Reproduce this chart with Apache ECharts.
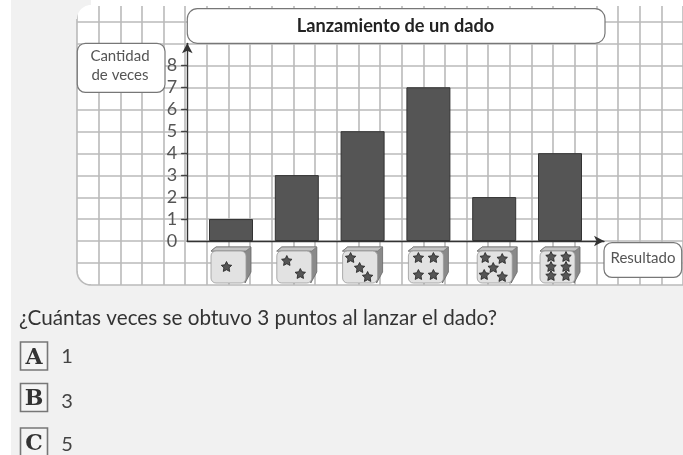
<!DOCTYPE html>
<html><head><meta charset="utf-8">
<style>html,body{margin:0;padding:0;background:#fff}#c{width:683px;height:455px}</style>
<script src="https://cdn.jsdelivr.net/npm/echarts@6/dist/echarts.min.js"></script>
</head><body><div id="c"></div>
<script>
const categories = ['1','2','3','4','5','6'];
const counts = [1,3,5,7,2,4];
const yTicks = [0,1,2,3,4,5,6,7,8];
const chartTitle = 'Lanzamiento de un dado';
const yAxisName = ['Cantidad','de veces'];
const xAxisName = 'Resultado';
const question = '¿Cuántas veces se obtuvo 3 puntos al lanzar el dado?';
const optionLetters = ['A','B','C'];
const optionValues = ['1','3','5'];

const FONT = 'Lato, sans-serif';
const PAGE = '#f1f1f1';
const INK = '#555';

// star pip layouts (offset from die face centre, px), per die face
const PIPS = {
  1:[[-1.5,0]],
  2:[[-7,-6],[6.5,7]],
  3:[[-9,-9],[0,1],[8,10]],
  4:[[-7,-9],[8,-9],[-7,8],[8,8]],
  5:[[-9,-9],[8,-8],[-1,1],[-10,8],[8,10]],
  6:[[-6,-10],[9,-10],[-6,0],[9,0],[-6,9],[9,9]]
};
const DIE_SHIFT = {5:3};
function starPoints(cx,cy,R){
  const pts=[];
  for(let i=0;i<10;i++){
    const r=i%2?R*0.5:R, a=-Math.PI/2+i*Math.PI/5;
    pts.push([cx+r*Math.cos(a),cy+r*Math.sin(a)]);
  }
  return pts;
}
function renderDie(params,api){
  const p=api.coord([api.value(0),0]);
  const n=api.value(1);
  const x=p[0]+(DIE_SHIFT[n]||0), y=p[1];
  const kids=[
    {type:'polygon',shape:{points:[[x-20,y+10],[x-15,y+6],[x+20,y+6],[x+20,y+31],[x+14,y+42],[x+12,y+12]]},style:{fill:'#8a8a8a',stroke:'#666',lineWidth:.8}},
    {type:'polygon',shape:{points:[[x-20,y+10],[x-15,y+6],[x+20,y+6],[x+15,y+10]]},style:{fill:'#c4c4c4',stroke:'#777',lineWidth:.8}},
    {type:'rect',shape:{x:x-20,y:y+10,width:35,height:32,r:5},style:{fill:'#e2e2e2',stroke:'#999',lineWidth:.8}}
  ];
  PIPS[n].forEach(o=>{
    kids.push({type:'polygon',shape:{points:starPoints(x-3+o[0],y+26+o[1],5.5)},style:{fill:'#555',stroke:'#222',lineWidth:.8}});
  });
  return {type:'group',children:kids};
}
function arc(cx,cy,r,a0,a1){
  const pts=[];
  for(let i=0;i<=12;i++){const a=(a0+(a1-a0)*i/12)*Math.PI/180;pts.push([cx+r*Math.cos(a),cy+r*Math.sin(a)]);}
  return pts;
}

const UX = 21.95, UY = 21.96, Y0 = 241, X0 = 187.3;
const gridLine = {show:true,lineStyle:{color:'#bababa',width:1.6}};
const none = {show:false};

const box = (x,y,w,h,r)=>({type:'rect',z:5,shape:{x,y,width:w,height:h,r},style:{fill:'#fff',stroke:'#777',lineWidth:1.2}});
const txt = (x,y,t,size,extra)=>({type:'text',z:6,x,y,style:Object.assign({text:t,font:size+'px '+FONT,fill:INK,textAlign:'center',textVerticalAlign:'middle'},extra||{})});

const cornerBL = arc(91,271,14,180,90);
const cornerTL = arc(91,19,14,180,270);
const graphics = [
  {type:'rect',z:-2,shape:{x:11,y:0,width:672,height:455},style:{fill:PAGE}},
  {type:'rect',z:-1,shape:{x:77,y:0,width:620,height:285},style:{fill:'#fff'}},
  {type:'rect',z:1,shape:{x:76,y:0,width:610,height:6},style:{fill:'#fff'}},
  {type:'polygon',z:1,shape:{points:[[74,288],[74,271]].concat(cornerBL,[[91,288]])},style:{fill:PAGE}},
  {type:'polygon',z:1,shape:{points:[[74,0],[74,19]].concat(cornerTL,[[91,0]])},style:{fill:PAGE}},
  {type:'polyline',z:1,shape:{points:cornerBL},style:{fill:null,stroke:'#bababa',lineWidth:1.6}},
  box(187.3,8.7,417.7,34.6,10),
  box(77.3,43.3,87.7,49,8),
  box(604,242.7,77.7,34.6,8),
  txt(395.5,26,chartTitle,18,{font:'bold 18.2px '+FONT,fill:'#222'}),
  txt(120,56,yAxisName[0],15),
  txt(120,75,yAxisName[1],15),
  txt(643,258,xAxisName,15),
  txt(19,318,question,20.7,{textAlign:'left',fill:'#333'})
];
const optY=[356.5,398,442.5], digitY=[357,401.5,445];
optionLetters.forEach((l,i)=>{
  graphics.push({type:'rect',z:5,shape:{x:20.5,y:optY[i]-14.5,width:27,height:28},style:{fill:'#f4f4f4',stroke:'#777',lineWidth:1.6}});
  graphics.push(txt(34,optY[i]+1.5,l,22,{font:'bold 22px "DejaVu Serif", serif',fill:'#333'}));
  graphics.push(txt(67,digitY[i],optionValues[i],20,{fill:'#444'}));
});

const option = {
  backgroundColor:'#fff',
  animation:false,
  grid:[
    {left:77,top:Y0-11*UY,width:28*UX,height:13*UY},
    {left:X0+10.8,top:Y0-9*UY,width:6*65.8,height:9*UY},
    {left:X0,top:Y0-9*UY,width:416.7,height:9*UY}
  ],
  xAxis:[
    {gridIndex:0,type:'value',min:0,max:28,interval:1,axisLine:none,axisTick:none,axisLabel:none,splitLine:gridLine},
    {gridIndex:1,type:'category',data:categories,axisLine:none,axisTick:none,axisLabel:none,splitLine:none},
    {gridIndex:2,type:'value',min:0,max:1,axisTick:none,axisLabel:none,splitLine:none,
     axisLine:{show:true,onZero:false,symbol:['none','arrow'],symbolSize:[8,10],lineStyle:{color:'#333',width:1.4}}}
  ],
  yAxis:[
    {gridIndex:0,type:'value',min:-2,max:11,interval:1,axisLine:none,axisTick:none,axisLabel:none,splitLine:gridLine},
    {gridIndex:1,type:'value',min:0,max:9,axisLine:none,axisTick:none,axisLabel:none,splitLine:none},
    {gridIndex:2,type:'value',min:0,max:9,interval:1,splitLine:none,
     axisLine:{show:true,onZero:false,symbol:['none','arrow'],symbolSize:[8,10],lineStyle:{color:'#333',width:1.4}},
     axisTick:{show:true,length:6,customValues:yTicks.slice(1),lineStyle:{color:'#444',width:1.2}},
     axisLabel:{show:true,customValues:yTicks,margin:10,fontFamily:FONT,fontSize:18,color:INK,padding:[4,0,0,0]}},
    {gridIndex:2,type:'value',min:0,max:9,interval:1,splitLine:none,axisLine:none,axisLabel:none,
     axisTick:{show:true,inside:true,length:6,customValues:yTicks.slice(1),lineStyle:{color:'#444',width:1.2}}}
  ],
  series:[
    {type:'bar',xAxisIndex:1,yAxisIndex:1,data:counts,barWidth:44,z:3,
     itemStyle:{color:'#555',borderColor:'#333',borderWidth:1}},
    {type:'custom',xAxisIndex:1,yAxisIndex:1,clip:false,z:4,silent:true,
     data:categories.map((c,i)=>[i,+c]),renderItem:renderDie}
  ],
  graphic:graphics
};
echarts.init(document.getElementById('c'),null,{renderer:'canvas'}).setOption(option);
</script></body></html>
